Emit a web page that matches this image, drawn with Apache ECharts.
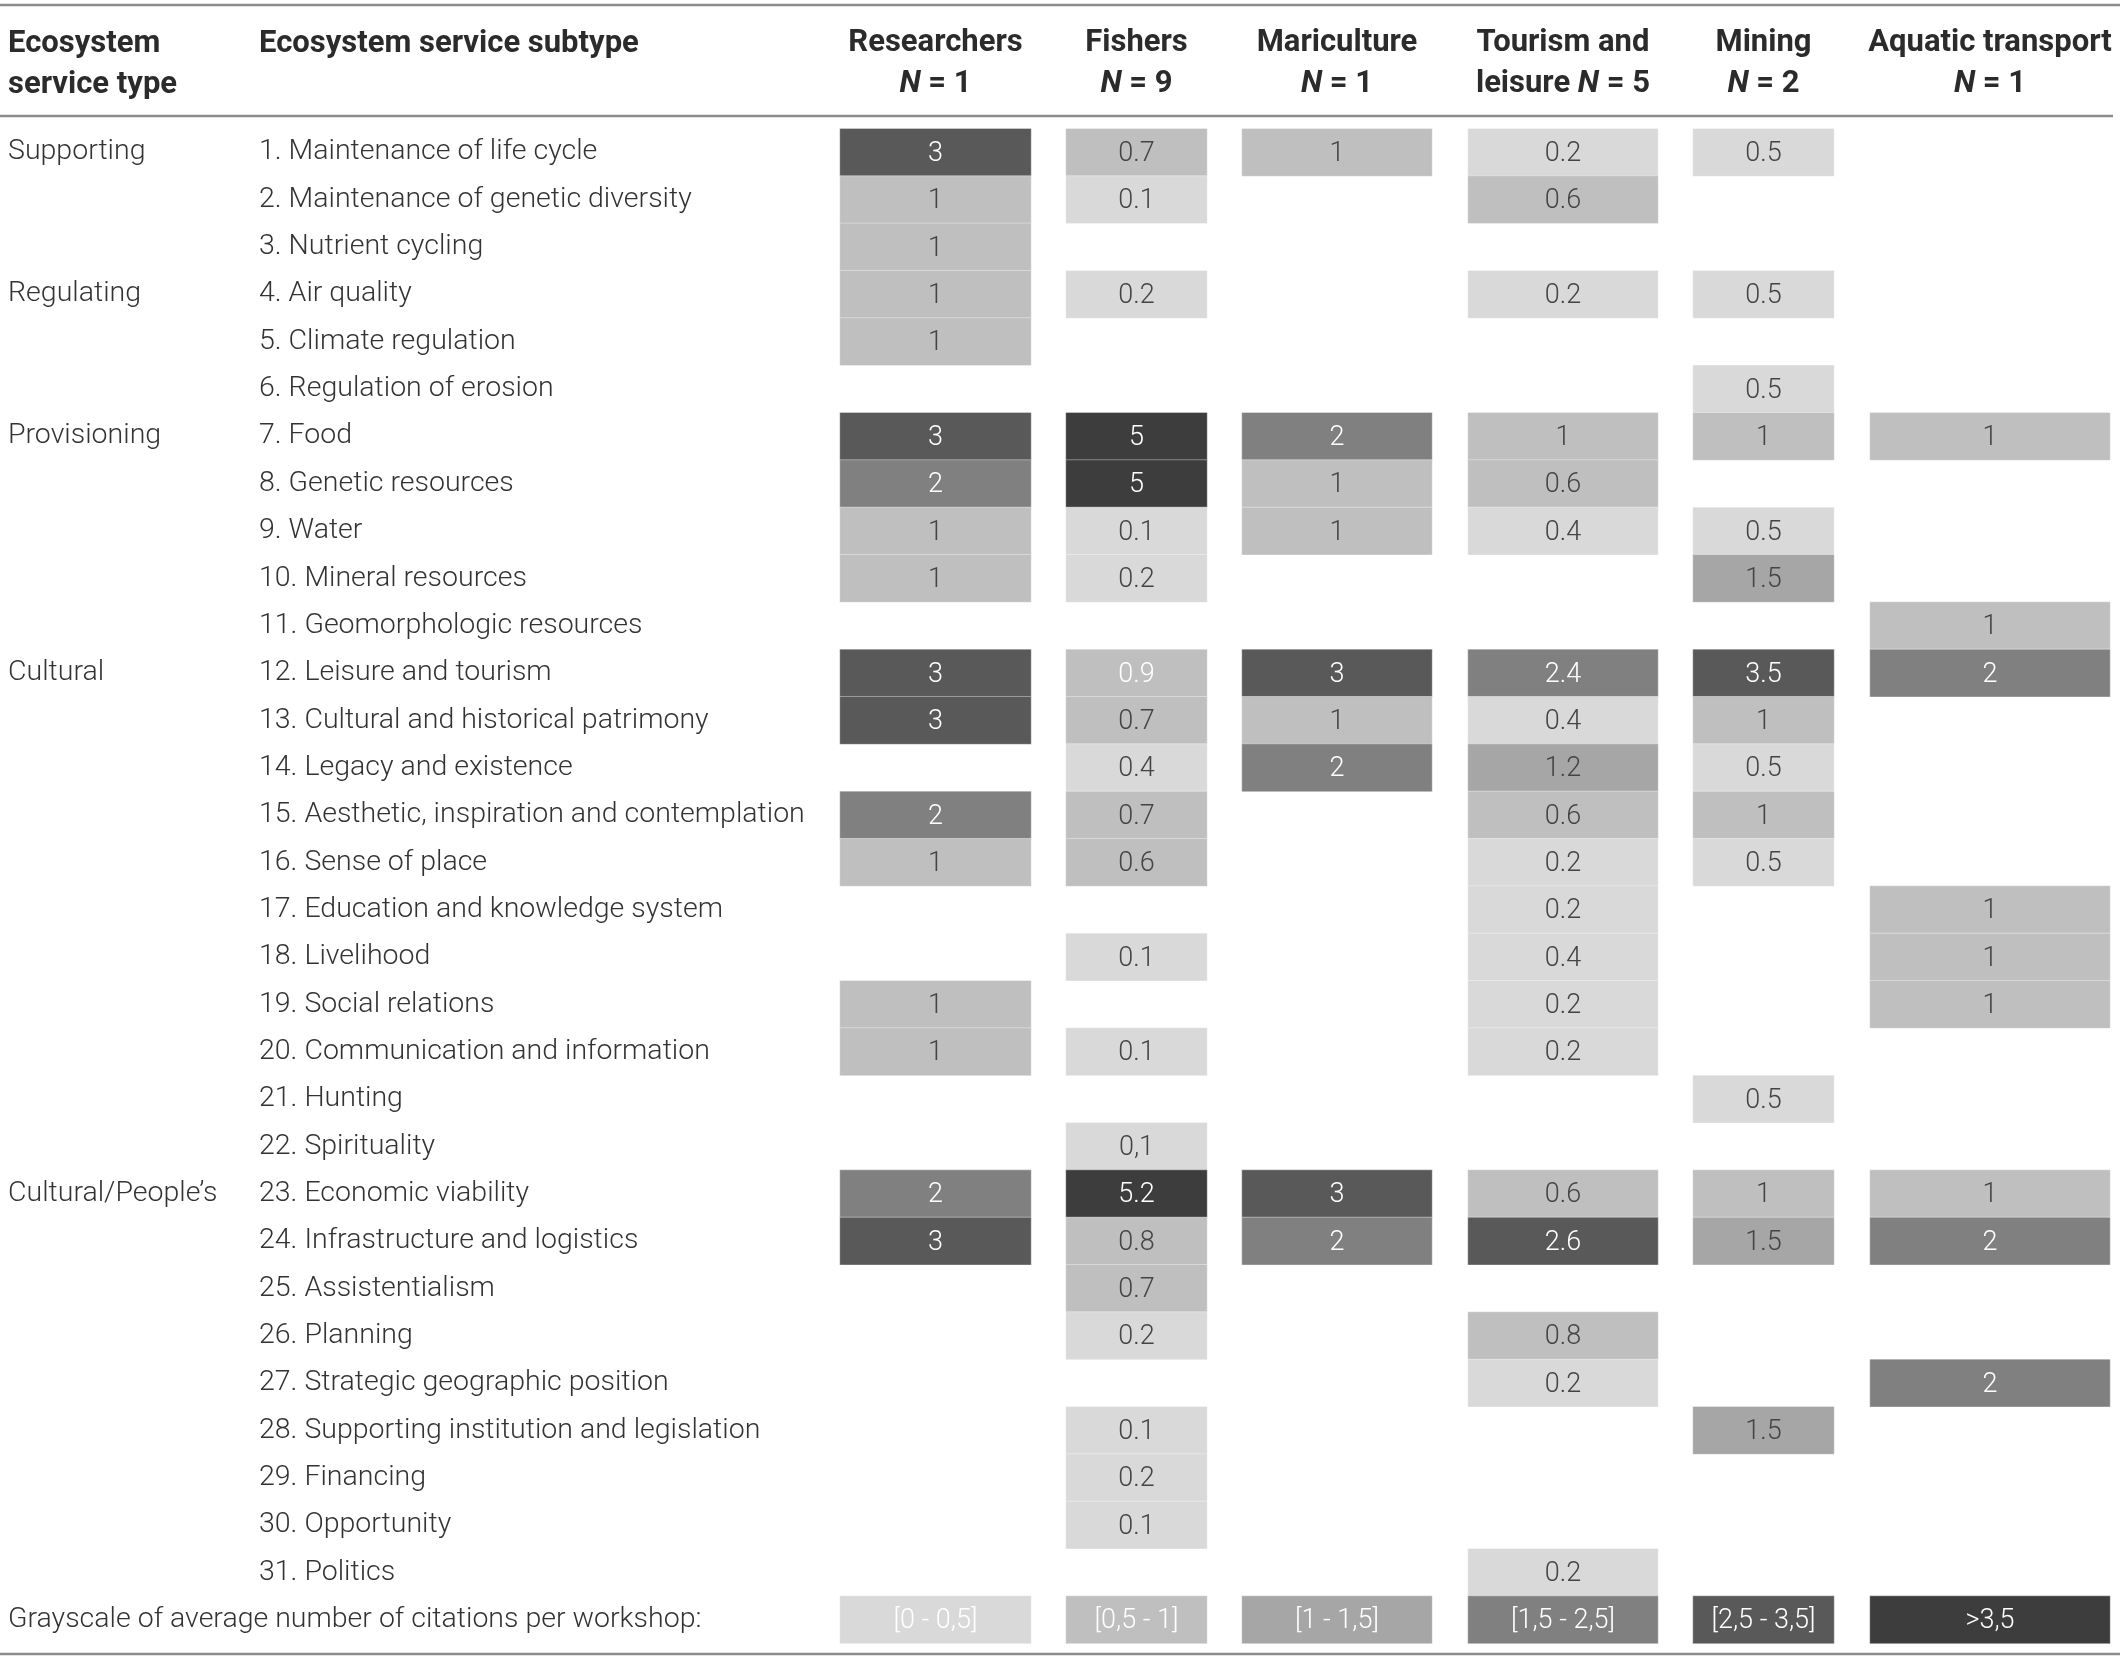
<!DOCTYPE html>
<html>
<head>
<meta charset="utf-8">
<style>
html, body { margin: 0; padding: 0; background: #fff; }
#main { width: 2120px; height: 1660px; }
</style>
</head>
<body>
<div id="main"></div>
<script src="https://cdn.jsdelivr.net/npm/echarts@6/dist/echarts.min.js"></script>
<script type="text/javascript">
// table data
var rowTypes = ['Supporting', '', '', 'Regulating', '', '', 'Provisioning', '', '', '', '',
  'Cultural', '', '', '', '', '', '', '', '', '', '', 'Cultural/People’s', '', '', '', '', '', '', '', ''];
var subtypes = ['1. Maintenance of life cycle', '2. Maintenance of genetic diversity', '3. Nutrient cycling',
  '4. Air quality', '5. Climate regulation', '6. Regulation of erosion', '7. Food', '8. Genetic resources',
  '9. Water', '10. Mineral resources', '11. Geomorphologic resources', '12. Leisure and tourism',
  '13. Cultural and historical patrimony', '14. Legacy and existence', '15. Aesthetic, inspiration and contemplation',
  '16. Sense of place', '17. Education and knowledge system', '18. Livelihood', '19. Social relations',
  '20. Communication and information', '21. Hunting', '22. Spirituality', '23. Economic viability',
  '24. Infrastructure and logistics', '25. Assistentialism', '26. Planning', '27. Strategic geographic position',
  '28. Supporting institution and legislation', '29. Financing', '30. Opportunity', '31. Politics'];

var headTop = ['Researchers', 'Fishers', 'Mariculture', 'Tourism and', 'Mining', 'Aquatic transport'];
var headPre = ['', '', '', 'leisure ', '', ''];
var headN = [1, 9, 1, 5, 2, 1];

var researchers = ['3','1','1','1','1',null,'3','2','1','1',null,'3','3',null,'2','1',null,null,'1','1',null,null,'2','3',null,null,null,null,null,null,null];
var fishers = ['0.7','0.1',null,'0.2',null,null,'5','5','0.1','0.2',null,'0.9','0.7','0.4','0.7','0.6',null,'0.1',null,'0.1',null,'0,1','5.2','0.8','0.7','0.2',null,'0.1','0.2','0.1',null];
var mariculture = ['1',null,null,null,null,null,'2','1','1',null,null,'3','1','2',null,null,null,null,null,null,null,null,'3','2',null,null,null,null,null,null,null];
var tourism = ['0.2','0.6',null,'0.2',null,null,'1','0.6','0.4',null,null,'2.4','0.4','1.2','0.6','0.2','0.2','0.4','0.2','0.2',null,null,'0.6','2.6',null,'0.8','0.2',null,null,null,'0.2'];
var mining = ['0.5',null,null,'0.5',null,'0.5','1',null,'0.5','1.5',null,'3.5','1','0.5','1','0.5',null,null,null,null,'0.5',null,'1','1.5',null,null,null,'1.5',null,null,null];
var aquatic = [null,null,null,null,null,null,'1',null,null,null,'1','2',null,null,null,null,'1','1','1',null,null,null,'1','2',null,null,'2',null,null,null,null];
var columns = [researchers, fishers, mariculture, tourism, mining, aquatic];

// cells printed with light text in the original although the fill is light
var lightText = [[1, 11]];

var legendTitle = 'Grayscale of average number of citations per workshop:';
var legendLabels = ['[0 - 0,5]', '[0,5 - 1]', '[1 - 1,5]', '[1,5 - 2,5]', '[2,5 - 3,5]', '>3,5'];
var legendValues = [0.25, 0.75, 1.25, 2, 3, 4];
var binEdges = [0.5, 1, 1.5, 2.5, 3.5];
var grays = ['#d9d9d9', '#bfbfbf', '#a6a6a6', '#808080', '#595959', '#3d3d3d'];

var FONT = 'Roboto';
var rowCats = subtypes.concat(['']);
var typeCol = rowTypes.concat([legendTitle]);

// column placement (px)
var colLeft = [840, 1066, 1242, 1468, 1693, 1870];
var colWidth = [191, 141, 190, 190, 141, 240];
var gridTop = 128.7, gridBottom = 16.6;

var pieces = [];
for (var b = 0; b < grays.length; b++) {
  var p = { color: grays[b] };
  if (b > 0) p.gt = binEdges[b - 1];
  if (b < binEdges.length) p.lte = binEdges[b];
  pieces.push(p);
}

function isLight(c, r) {
  for (var k = 0; k < lightText.length; k++) {
    if (lightText[k][0] === c && lightText[k][1] === r) return true;
  }
  return false;
}

var headStyle = { fontFamily: FONT, fontSize: 31, fontWeight: 'bold', color: '#2b2b2b', lineHeight: 41 };

var grids = [], xAxes = [], yAxes = [], series = [];
columns.forEach(function (col, c) {
  grids.push({ left: colLeft[c], width: colWidth[c], top: gridTop, bottom: gridBottom, outerBoundsMode: 'none' });
  xAxes.push({
    type: 'category', gridIndex: c, position: 'top', data: [headTop[c]],
    axisLine: { show: false }, axisTick: { show: false }, splitLine: { show: false },
    axisLabel: {
      margin: 24, interval: 0,
      formatter: function () {
        return '{b|' + headTop[c] + '}\n{b|' + headPre[c] + '}{i|N}{b| = ' + headN[c] + '}';
      },
      rich: {
        b: headStyle,
        i: echarts.util.extend({ fontStyle: 'italic' }, headStyle)
      }
    }
  });
  yAxes.push({
    type: 'category', gridIndex: c, inverse: true, data: rowCats,
    axisLine: { show: false }, axisTick: { show: false }, splitLine: { show: false },
    axisLabel: c === 0 ? {
      show: true, interval: 0, align: 'left', margin: 581, padding: [5, 0, 0, 0],
      fontFamily: FONT, fontWeight: 300, fontSize: 28.5, color: '#333'
    } : { show: false }
  });

  var data = [];
  col.forEach(function (s, r) {
    if (s === null) return;
    var v = parseFloat(s.replace(',', '.'));
    data.push({
      value: [0, r, v], txt: s,
      label: { color: (v > 1.5 || isLight(c, r)) ? '#ffffff' : '#444444' }
    });
  });
  data.push({ value: [0, subtypes.length, legendValues[c]], txt: legendLabels[c], label: { color: '#ffffff' } });

  series.push({
    type: 'heatmap', xAxisIndex: c, yAxisIndex: c, data: data,
    itemStyle: { borderColor: 'rgba(255,255,255,0.35)', borderWidth: 1 },
    label: {
      show: true, fontFamily: FONT, fontWeight: 300, fontSize: 27, offset: [0, 2],
      formatter: function (p) { return p.data.txt; }
    },
    emphasis: { disabled: true }
  });
});

// type-of-service column, second axis on the first grid
yAxes.push({
  type: 'category', gridIndex: 0, position: 'left', inverse: true, data: rowCats,
  axisLine: { show: false }, axisTick: { show: false }, splitLine: { show: false },
  axisLabel: {
    show: true, interval: 0, align: 'left', margin: 832, padding: [5, 0, 0, 0],
    fontFamily: FONT, fontWeight: 300, fontSize: 28.5, color: '#333',
    formatter: function (v, i) { return typeCol[i]; }
  }
});

var myChart = echarts.init(document.getElementById('main'));
var option = {
  backgroundColor: '#fff',
  animation: false,
  title: [
    { text: 'Ecosystem\nservice type', left: 8, top: 24, padding: 0, textStyle: headStyle },
    { text: 'Ecosystem service subtype', left: 259, top: 24, padding: 0, textStyle: headStyle }
  ],
  visualMap: {
    type: 'piecewise', show: false, dimension: 2,
    seriesIndex: series.map(function (s, i) { return i; }),
    pieces: pieces
  },
  grid: grids,
  xAxis: xAxes,
  yAxis: yAxes,
  series: series,
  graphic: [
    { type: 'line', shape: { x1: 0, y1: 5, x2: 2120, y2: 5 }, style: { stroke: '#8c8c8c', lineWidth: 2.5 } },
    { type: 'line', shape: { x1: 0, y1: 116, x2: 2113, y2: 116 }, style: { stroke: '#8c8c8c', lineWidth: 2.5 } },
    { type: 'line', shape: { x1: 0, y1: 1654, x2: 2120, y2: 1654 }, style: { stroke: '#8c8c8c', lineWidth: 2.5 } }
  ]
};
myChart.setOption(option);
</script>
</body>
</html>
